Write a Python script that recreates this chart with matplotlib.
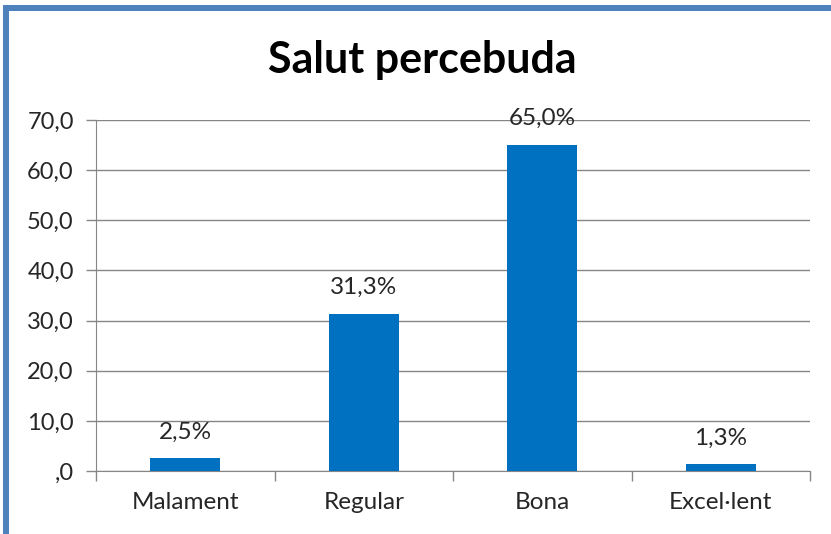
import matplotlib
matplotlib.use("Agg")
import matplotlib.pyplot as plt
from matplotlib.patches import Rectangle

categories = ["Malament", "Regular", "Bona", "Excel·lent"]
values = [2.5, 31.3, 65.0, 1.3]
labels = ["2,5%", "31,3%", "65,0%", "1,3%"]
yticks = [0, 10, 20, 30, 40, 50, 60, 70]
ytick_labels = [",0", "10,0", "20,0", "30,0", "40,0", "50,0", "60,0", "70,0"]
title = "Salut percebuda"

plt.rcParams['font.family'] = ['Lato', 'DejaVu Sans']
W, H = 831, 534
fig = plt.figure(figsize=(W/100, H/100), dpi=100)

# frame
fig.patches.append(Rectangle((3/W, 0), 6/W, (H-5)/H, transform=fig.transFigure,
                             facecolor="#4F81BD", edgecolor="none"))
fig.patches.append(Rectangle((3/W, (H-11)/H), (W-3)/W, 6/H, transform=fig.transFigure,
                             facecolor="#4F81BD", edgecolor="none"))

x0, x1 = 96, 810
y0, y1 = 471, 120
ax = fig.add_axes([x0/W, (H-y0)/H, (x1-x0)/W, (y0-y1)/H])
xs = list(range(len(categories)))
ax.bar(xs, values, width=0.39, color="#0070C0", zorder=3)
for x, v, l in zip(xs, values, labels):
    ax.annotate(l, (x, v), xytext=(0, 19), textcoords="offset points",
                ha="center", va="center", fontsize=17.5, color="#262626", zorder=4)
ax.set_xlim(-0.5, len(categories)-0.5)
ax.set_ylim(0, 70)
ax.set_yticks(yticks)
ax.set_yticklabels(ytick_labels)
ax.set_xticks(xs)
ax.set_xticklabels(categories)
ax.set_xticks([i - 0.5 for i in range(len(categories)+1)], minor=True)
ax.tick_params(axis='x', which='major', length=0, pad=15, labelsize=17.5, labelcolor="#262626")
ax.tick_params(axis='x', which='minor', length=7, color="#868686", width=1)
ax.tick_params(axis='y', length=7, color="#868686", width=1, pad=9, labelsize=17, labelcolor="#262626")
ax.grid(axis='y', color="#868686", linewidth=1, zorder=0)
for s in ['top', 'right']:
    ax.spines[s].set_visible(False)
for s in ['left', 'bottom']:
    ax.spines[s].set_color("#868686")
fig.text(422/W, (H-60)/H, title, ha="center", va="center", fontsize=31,
         fontweight="bold", color="black")
fig.savefig("out.png", dpi=100)
